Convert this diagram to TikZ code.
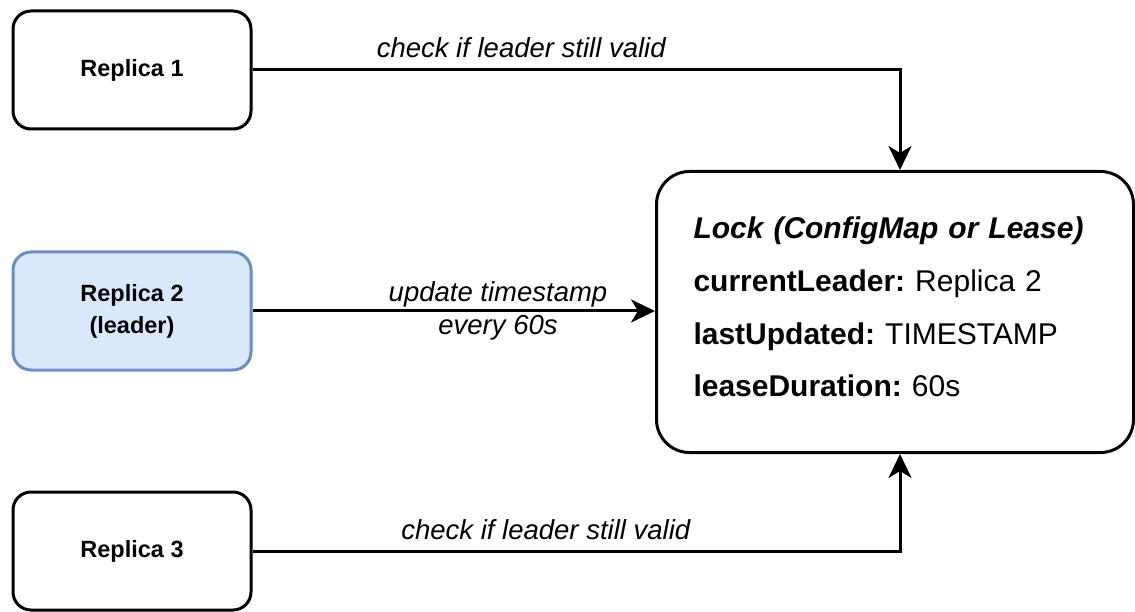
\documentclass[tikz,border=0pt]{standalone}
\usepackage{fontspec}
\setmainfont{Liberation Sans}
\usetikzlibrary{arrows.meta}
\definecolor{leaderfill}{HTML}{DAE8FC}
\definecolor{leaderdraw}{HTML}{6C8EBF}
\frenchspacing
\tikzset{
  replica/.style={draw, line width=3pt, rounded corners=18pt,
    minimum width=238pt, minimum height=118pt, align=center,
    font=\fontsize{23.5}{32}\selectfont\bfseries},
  lockbox/.style={draw, line width=3pt, rounded corners=33pt,
    minimum width=477pt, minimum height=281pt, inner xsep=37pt,
    text width=403pt, align=left, font=\fontsize{30}{52.7}\selectfont},
  link/.style={line width=3pt, -{Stealth[length=24pt,width=23pt,inset=7pt]}},
  lbl/.style={font=\fontsize{27.5}{33}\selectfont\itshape, align=center}
}
\begin{document}
\begin{tikzpicture}[x=1pt,y=-1pt]
    \useasboundingbox (0,0) rectangle (1135,612);
    \node[replica] (r1) at (132,70) {Replica 1};
    \node[replica, fill=leaderfill, draw=leaderdraw] (r2) at (132,311) {Replica 2\\(leader)};
    \node[replica] (r3) at (132,551) {Replica 3};
    \node[lockbox] (lock) at (895,312)
      {\textbf{\textit{Lock (ConfigMap or Lease)}}\\
       \textbf{currentLeader:} Replica 2\\
       \textbf{lastUpdated:} TIMESTAMP\\
       \textbf{leaseDuration:} 60s\rule[-10pt]{0pt}{10pt}};
    \coordinate (top) at ([xshift=5pt]lock.north);
    \coordinate (bot) at ([xshift=5pt]lock.south);
    \draw[link] (r1.east) -- node[lbl, pos=0.415, anchor=base, yshift=12pt] (chk1)
      {check if leader still valid} (r1.east -| top) -- (top);
    \draw[link] (r2.east) -- node[lbl, pos=0.61] (upd)
      {update timestamp\\every 60s} (lock.west |- r2.east);
    \draw[link] (r3.east) -- node[lbl, pos=0.453, anchor=base, yshift=12pt] (chk3)
      {check if leader still valid} (r3.east -| bot) -- (bot);
\end{tikzpicture}
\end{document}
